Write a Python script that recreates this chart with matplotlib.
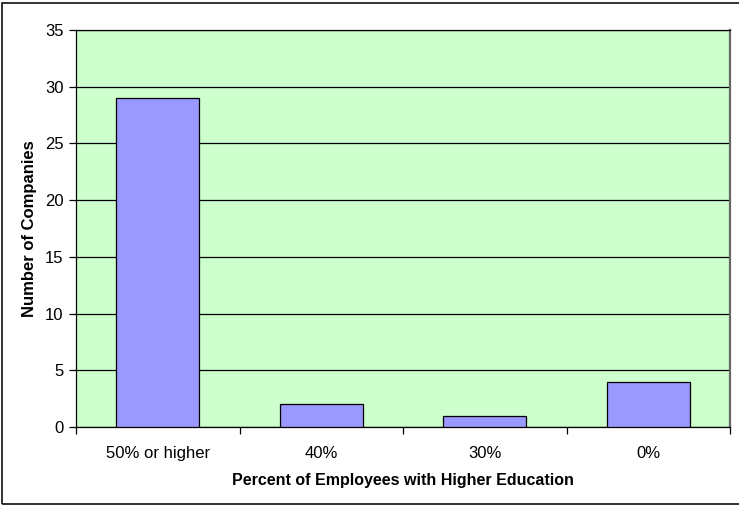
import matplotlib.pyplot as plt
from matplotlib.patches import Rectangle

categories = ["50% or higher", "40%", "30%", "0%"]
companies = [29, 2, 1, 4]

W, H = 739, 505
fig = plt.figure(figsize=(W / 100, H / 100), dpi=100)
plt.rcParams['font.family'] = ['Liberation Sans', 'DejaVu Sans']

# outer chart frame (its right edge runs past the canvas)
fig.patches.append(Rectangle((2 / W, 1 / H), (W + 10) / W, (H - 4) / H,
                             transform=fig.transFigure, fill=False,
                             edgecolor='#222222', linewidth=1.3))

left, right, top, bottom = 76, 730, 30, 427
ax = fig.add_axes([left / W, 1 - bottom / H, (right - left) / W, (bottom - top) / H])
ax.set_facecolor('#CCFFCC')

x = list(range(len(categories)))
ax.bar(x, companies, width=0.51, color='#9999FF', edgecolor='black', linewidth=0.9, zorder=3)

ax.set_xlim(-0.5, len(categories) - 0.5)
ax.set_ylim(0, 35)
ax.set_yticks(range(0, 36, 5))
ax.yaxis.grid(True, color='black', linewidth=0.9, zorder=0)
ax.set_axisbelow(True)

# category labels centered, tick marks between categories
ax.set_xticks(x)
ax.set_xticklabels(categories, fontsize=12)
ax.tick_params(axis='x', which='major', length=0, pad=14)
ax.set_xticks([i + 0.5 for i in range(-1, len(categories))], minor=True)
ax.tick_params(axis='x', which='minor', length=5, width=0.9, direction='out')
ax.tick_params(axis='y', length=5, width=0.9, direction='out', labelsize=12, pad=4)

for s in ['top', 'left', 'bottom']:
    ax.spines[s].set_color('black')
    ax.spines[s].set_linewidth(0.9)
ax.spines['right'].set_color('#666666')
ax.spines['right'].set_linewidth(1.6)

ax.set_xlabel("Percent of Employees with Higher Education", fontsize=11.5,
              fontweight='bold', labelpad=8)
ax.set_ylabel("Number of Companies", fontsize=12, fontweight='bold', labelpad=6)

fig.savefig("out.png", dpi=100)
